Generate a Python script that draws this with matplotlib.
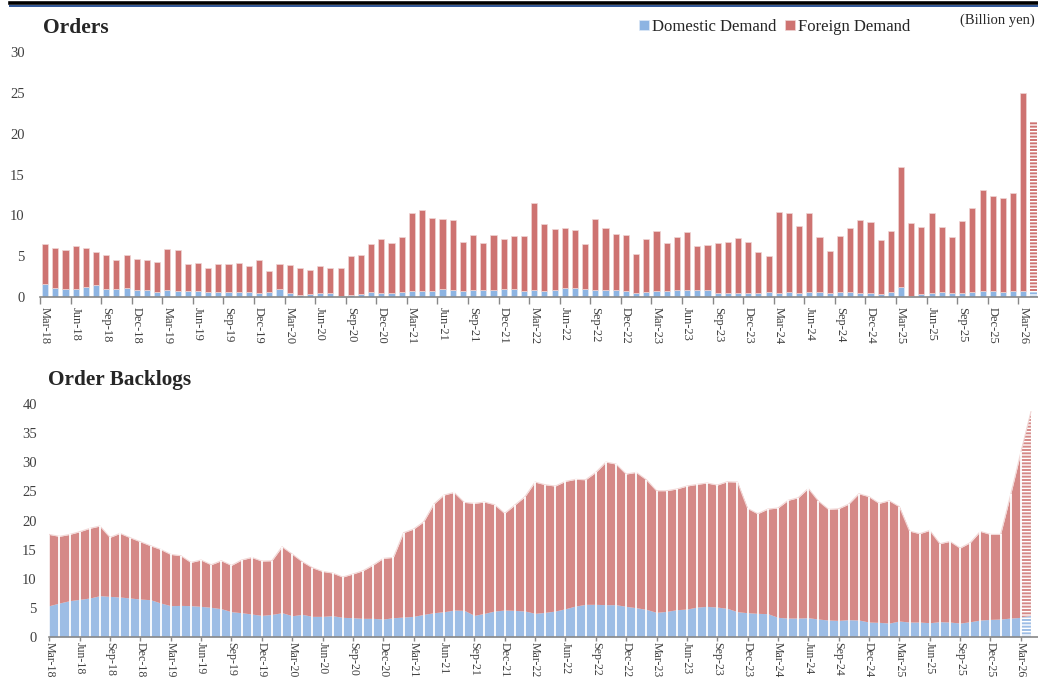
import numpy as np
import matplotlib
matplotlib.use("Agg")
import matplotlib.pyplot as plt
from matplotlib.lines import Line2D

plt.rcParams['font.family'] = ['Liberation Serif', 'DejaVu Serif']

# months Mar-18 .. Apr-26 (last one is a forecast, drawn hatched)
months = ["Jan", "Feb", "Mar", "Apr", "May", "Jun", "Jul", "Aug", "Sep", "Oct", "Nov", "Dec"]
labels = []
for k in range(98):
    m = (2 + k) % 12
    y = 18 + (2 + k) // 12
    labels.append("%s-%d" % (months[m], y))

# Orders (billion yen)
orders_total = [6.48, 5.98, 5.78, 6.19, 5.94, 5.53, 5.16, 4.59, 5.2, 4.63, 4.5, 4.3, 5.9, 5.78, 4.06,
                4.14, 3.6, 4.1, 4.0, 4.22, 3.81, 4.5, 3.2, 4.06, 3.89, 3.6, 3.36, 3.77, 3.52, 3.52,
                5.04, 5.2, 6.48, 7.09, 6.64, 7.3, 10.29, 10.66, 9.63, 9.59, 9.43, 6.68, 7.58, 6.64, 7.62,
                7.09, 7.46, 7.5, 11.52, 8.89, 8.28, 8.48, 8.2, 6.52, 9.5, 8.48, 7.75, 7.58, 5.25, 7.13,
                8.11, 6.6, 7.34, 7.95,
                6.27, 6.39, 6.64, 6.72, 7.17, 6.68, 5.57, 5.0, 10.45, 10.25, 8.65, 10.25, 7.38, 5.61, 7.46,
                8.44, 9.43, 9.22, 6.93, 8.03, 15.86, 9.02, 8.57, 10.29, 8.61, 7.3, 9.26, 10.9, 13.07, 12.38,
                12.09, 12.7, 25.0, 21.4]
orders_domestic = [1.56, 1.15, 1.02, 0.94, 1.23, 1.43, 1.02, 0.94, 1.07, 0.9, 0.86, 0.57, 0.82, 0.7, 0.7,
                   0.7, 0.57, 0.66, 0.57, 0.57, 0.57, 0.53, 0.66, 0.94, 0.45, 0.25, 0.33, 0.45, 0.45, 0.16,
                   0.29, 0.33, 0.57, 0.45, 0.45, 0.57, 0.7, 0.74, 0.7, 0.94, 0.82, 0.78, 0.9, 0.86, 0.9,
                   0.94, 0.94, 0.7, 0.82, 0.74, 0.82, 1.1, 1.07, 0.94, 0.9, 0.9, 0.82, 0.7, 0.53, 0.61,
                   0.7, 0.7, 0.82, 0.86,
                   0.9, 0.82, 0.45, 0.53, 0.53, 0.49, 0.45, 0.57, 0.45, 0.57, 0.45, 0.57, 0.57, 0.45, 0.61,
                   0.61, 0.53, 0.45, 0.41, 0.57, 1.23, 0.16, 0.33, 0.45, 0.57, 0.49, 0.45, 0.61, 0.7, 0.7,
                   0.66, 0.74, 0.78, 0.6]

# Order backlogs (billion yen)
backlog_total = [17.6, 17.27, 17.6, 18.07, 18.65, 19.05, 17.1, 17.79, 17.04, 16.35, 15.66, 15.03, 14.17,
                 13.94, 12.79, 13.2, 12.39, 13.08, 12.28, 13.2, 13.65, 13.02, 13.08, 15.49, 14.23, 12.91,
                 11.88, 11.24, 10.96, 10.27,
                 10.79, 11.36, 12.33, 13.48, 13.65, 17.9, 18.53, 19.79, 22.83, 24.38, 24.84, 23.12, 22.95,
                 23.18, 22.72, 21.23, 22.66, 24.1, 26.62, 26.16, 25.93, 26.74, 27.08, 27.02, 28.28, 30.06,
                 29.72, 28.0, 28.28, 27.02, 25.13, 25.13, 25.42, 25.93,
                 26.22, 26.45, 26.1, 26.68, 26.62, 22.09, 21.17, 21.97, 22.15, 23.47, 23.92, 25.53, 23.35,
                 21.92, 22.03, 22.83, 24.61, 24.1, 22.95, 23.41, 22.38, 18.19, 17.73, 18.3, 16.01, 16.41,
                 15.26, 16.18, 18.13, 17.61, 17.61, 24.5, 31.73, 38.73]
backlog_domestic = [5.34, 5.8, 6.2, 6.43, 6.66, 7.06, 6.94, 6.83, 6.66, 6.48, 6.37, 5.8, 5.34, 5.39, 5.34,
                    5.22, 5.05, 4.82, 4.3, 4.13, 3.9, 3.67, 3.84, 4.13, 3.61, 3.84, 3.5, 3.5, 3.61, 3.33,
                    3.27, 3.16, 3.16, 3.04, 3.27, 3.38, 3.5, 3.84, 4.13, 4.3, 4.59, 4.53, 3.67, 4.02, 4.42,
                    4.59, 4.53, 4.42, 4.02, 4.19, 4.42, 4.82, 5.28, 5.57, 5.57, 5.51, 5.51, 5.22, 4.99, 4.7,
                    4.19, 4.36, 4.65, 4.76,
                    5.1, 5.22, 5.1, 4.88, 4.3, 4.13, 4.02, 3.96, 3.33, 3.21, 3.21, 3.27, 3.04, 2.87, 2.81,
                    2.93, 2.87, 2.52, 2.47, 2.35, 2.7, 2.52, 2.52, 2.41, 2.58, 2.52, 2.35, 2.58, 2.87, 2.98,
                    3.04, 3.21, 3.33, 3.56]

blue_bar = '#8DB4E2'
red_bar = '#CE7371'
blue_area = '#9DBDE5'
red_area = '#D58987'
txt = '#404040'

W, H = 1038, 679
fig = plt.figure(figsize=(W / 100, H / 100), dpi=100)

x = np.arange(len(orders_total))
o_dom = np.array(orders_domestic)
o_for = np.array(orders_total) - o_dom
b_dom = np.array(backlog_domestic)
b_tot = np.array(backlog_total)

# ---- Orders ----
ax1 = fig.add_axes([40 / W, 1 - 297 / H, 1 - 40 / W, (297 - 52) / H])
n = len(x) - 1
ax1.bar(x[:n], o_dom[:n], width=0.6, color=blue_bar, edgecolor='#DCE8F6', linewidth=0.5, label='Domestic Demand')
ax1.bar(x[:n], o_for[:n], width=0.6, bottom=o_dom[:n], color=red_bar, edgecolor='#F0D6D5', linewidth=0.5,
        label='Foreign Demand')
ax1.bar(x[n:], o_dom[n:], width=0.6, color=blue_bar, edgecolor='white', linewidth=0, hatch='-----')
ax1.bar(x[n:], o_for[n:], width=0.6, bottom=o_dom[n:], color=red_bar, edgecolor='white', linewidth=0,
        hatch='-----')
ax1.set_ylim(0, 30)
ax1.set_xlim(-0.5, -0.5 + (W - 40) / 10.19)
ax1.set_yticks(np.arange(0, 31, 5))
ax1.set_xticks(np.arange(-0.5, 98, 3))
ax1.set_xticklabels([])
ax1.set_xticks(x[::3], minor=True)
ax1.set_xticklabels(labels[::3][:33], minor=True, rotation=-90)
ax1.tick_params(axis='x', which='major', length=5, color='#888888', width=1)
ax1.tick_params(axis='x', which='minor', length=0, pad=7, labelsize=9, labelcolor=txt)
ax1.tick_params(axis='y', length=0, pad=11, labelsize=10.5, labelcolor=txt)
for s in ['top', 'right', 'left']:
    ax1.spines[s].set_visible(False)
ax1.spines['bottom'].set_color('#888888')
ax1.spines['bottom'].set_linewidth(1.2)

# ---- Order backlogs ----
ax2 = fig.add_axes([49.3 / W, 1 - 636.7 / H, 1 - 49.3 / W, (636.7 - 404.3) / H])
m = len(x) - 1
ax2.fill_between(x[:m], 0, b_dom[:m], color=blue_area, linewidth=0)
ax2.fill_between(x[:m], b_dom[:m], b_tot[:m], color=red_area, linewidth=0)
ax2.fill_between(x[m - 1:], 0, b_dom[m - 1:], color=blue_area, edgecolor='white', linewidth=0, hatch='-----')
ax2.fill_between(x[m - 1:], b_dom[m - 1:], b_tot[m - 1:], color=red_area, edgecolor='white', linewidth=0,
                 hatch='-----')
ax2.plot(x, b_tot, color='#F2D8D7', lw=0.8)
ax2.vlines(x[1:m], 0, b_tot[1:m], color='white', lw=1.3)
ax2.set_ylim(0, 40)
ax2.set_xlim(0, (W - 49.3) / 10.12)
ax2.set_yticks(np.arange(0, 41, 5))
ax2.set_xticks(x[::3])
ax2.set_xticklabels(labels[::3], rotation=-90)
ax2.tick_params(axis='x', length=3, color='#888888', width=1, pad=1, labelsize=8.6, labelcolor=txt)
ax2.tick_params(axis='y', length=0, pad=9, labelsize=10.5, labelcolor=txt)
for s in ['top', 'right', 'left']:
    ax2.spines[s].set_visible(False)
ax2.spines['bottom'].set_color('#888888')
ax2.spines['bottom'].set_linewidth(1.2)

# titles, legend, unit
fig.text(43 / W, 1 - 28 / H, 'Orders', fontsize=15.5, fontweight='bold', color='#262626', va='center')
fig.text(48 / W, 1 - 380 / H, 'Order Backlogs', fontsize=15.3, fontweight='bold', color='#262626', va='center')
fig.text(1035 / W, 1 - 20 / H, '(Billion yen)', fontsize=10.5, color='#262626', ha='right', va='center')
fig.legend(loc='center left', bbox_to_anchor=(639 / W, 1 - 27 / H), ncol=2, frameon=False,
           fontsize=12, handlelength=0.6, handleheight=0.6, handletextpad=0.2, columnspacing=0.5,
           labelcolor='#262626', borderpad=0, borderaxespad=0)

# header rule
fig.add_artist(Line2D([10 / W, 1], [1 - 3.2 / H, 1 - 3.2 / H], color='black', lw=2.6))
fig.add_artist(Line2D([10 / W, 1], [1 - 5.8 / H, 1 - 5.8 / H], color='#2F5597', lw=1.4))

fig.savefig('out.png', dpi=100)
